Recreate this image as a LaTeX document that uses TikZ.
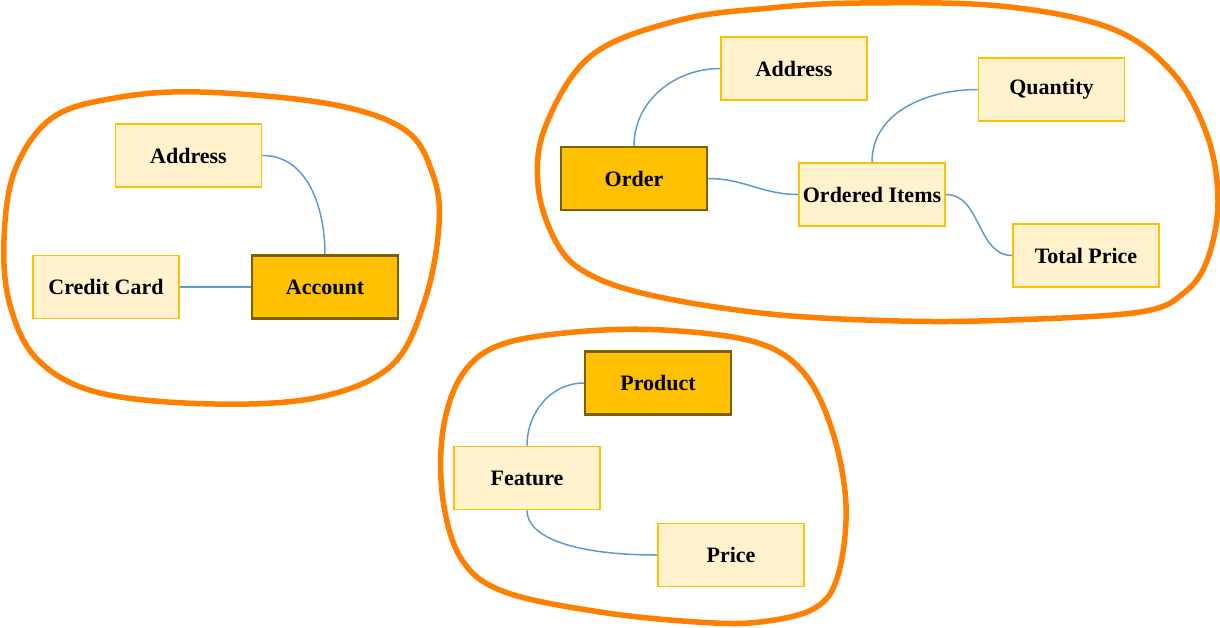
\documentclass[tikz,border=0pt]{standalone}
\usepackage{fontspec}
\setmainfont{Liberation Serif}
\begin{document}
\begin{tikzpicture}[x=1pt,y=-1pt,
  ent/.style={draw=boxline,fill=boxfill,line width=1.8pt,minimum width=146pt,minimum height=63pt,inner sep=0pt,
    font=\fontsize{22}{26}\selectfont\bfseries},
  main/.style={ent,draw=mainline,fill=mainfill,line width=2.2pt},
  link/.style={draw=linkblue,line width=1.5pt},
  blob/.style={draw=blobor,line width=5.5pt}]
\definecolor{boxline}{HTML}{FFC000}
\definecolor{boxfill}{HTML}{FFF2CC}
\definecolor{mainline}{HTML}{7F6000}
\definecolor{mainfill}{HTML}{FFC000}
\definecolor{linkblue}{HTML}{5B9BD5}
\definecolor{blobor}{HTML}{FF7F00}
\useasboundingbox (0,0) rectangle (1220,627);

% blobs
\draw[blob] plot[smooth cycle,tension=0.6] coordinates {
 (200,92) (330,104) (405,130) (433,175) (439,225) (425,300) (392,365) (320,397) (215,404)
 (100,393) (38,360) (10,305) (4,240) (15,170) (52,118) (115,98)};
\draw[blob] plot[smooth cycle,tension=0.6] coordinates {
 (860,3) (1000,6) (1110,28) (1172,72) (1207,135) (1218,200) (1208,258) (1185,292) (1140,312)
 (1010,320) (900,321) (770,314) (650,295) (585,272) (555,240) (538,185) (546,125) (592,55) (680,20) (770,8)};
\draw[blob] plot[smooth cycle,tension=0.6] coordinates {
 (663,330) (755,342) (803,372) (832,430) (846,505) (838,575) (815,608) (760,622) (697,622)
 (600,612) (505,592) (462,560) (443,500) (443,430) (462,375) (500,345) (575,332)};

% nodes
\node[ent]  (addr1) at (188.5,155.5) {Address};
\node[ent]  (cc)    at (106,287)     {Credit Card};
\node[main] (acc)   at (325,287)     {Account};

\node[ent]  (addr2) at (794,68.5)    {Address};
\node[ent]  (qty)   at (1051.5,89.5) {Quantity};
\node[main] (ord)   at (634,178.5)   {Order};
\node[ent]  (oi)    at (872,194.5)   {Ordered Items};
\node[ent]  (tp)    at (1086,255.5)  {Total Price};

\node[main] (prod)  at (658,383)     {Product};
\node[ent]  (feat)  at (527,478)     {Feature};
\node[ent]  (price) at (731,555)     {Price};

% connectors
\draw[link] (addr1.east) to[out=0,in=90] (acc.north);
\draw[link] (cc.east) to[out=0,in=180] (acc.west);
\draw[link] (ord.north) to[out=90,in=180] (addr2.west);
\draw[link] (ord.east) to[out=0,in=180] (oi.west);
\draw[link] (oi.north) to[out=90,in=180] (qty.west);
\draw[link] (oi.east) to[out=0,in=180] (tp.west);
\draw[link] (prod.west) to[out=180,in=90] (feat.north);
\draw[link] (feat.south) .. controls +(0,28) and +(-80,0) .. (price.west);
\end{tikzpicture}
\end{document}
